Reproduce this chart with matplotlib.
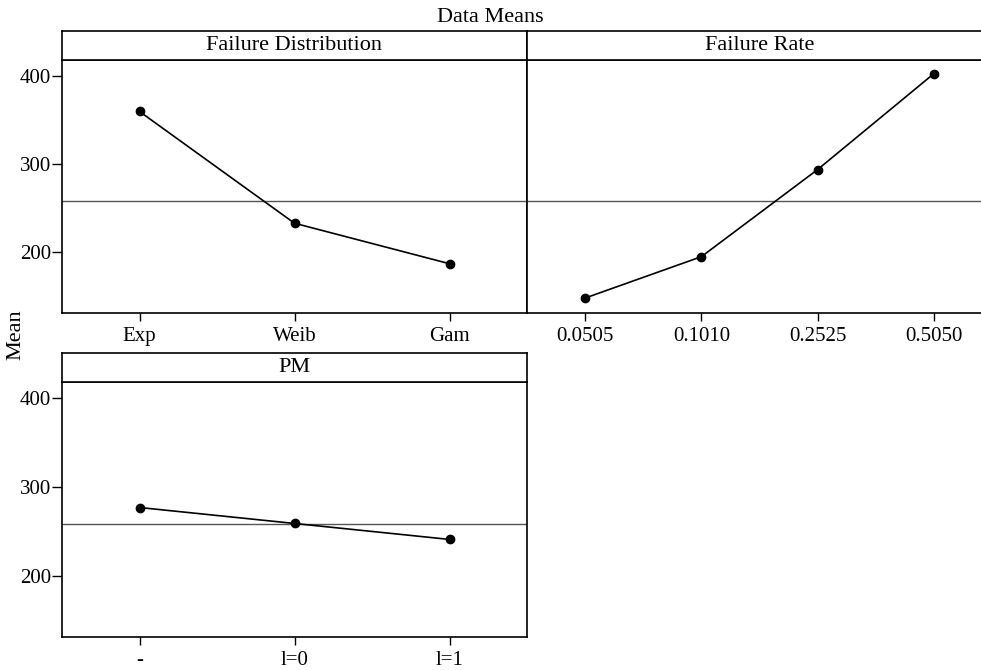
import matplotlib.pyplot as plt

plt.rcParams['font.family'] = ['Liberation Serif', 'DejaVu Serif']
plt.rcParams['font.size'] = 15

dist_levels = ['Exp', 'Weib', 'Gam']
dist_means = [360, 233, 187]
rate_levels = ['0.0505', '0.1010', '0.2525', '0.5050']
rate_means = [148, 195, 294, 403]
pm_levels = ['-', 'l=0', 'l=1']
pm_means = [277, 259, 241]
grand_mean = 258.5
y_ticks = [200, 300, 400]

W, H = 981, 670
fig = plt.figure(figsize=(W / 100, H / 100), dpi=100)


def box(x0, y0, x1, y1):
    # pixel box (top-left origin) -> figure fraction rect
    return [x0 / W, 1 - y1 / H, (x1 - x0) / W, (y1 - y0) / H]


panels = [
    ('Failure Distribution', dist_levels, dist_means, (62, 60, 527, 313), True),
    ('Failure Rate', rate_levels, rate_means, (527, 60, 992, 313), False),
    ('PM', pm_levels, pm_means, (62, 382, 527, 637), True),
]

for name, levels, means, (x0, y0, x1, y1), show_y in panels:
    ax = fig.add_axes(box(x0, y0, x1, y1))
    xs = list(range(1, len(levels) + 1))
    ax.axhline(grand_mean, color='#555555', lw=1.0, zorder=1)
    ax.plot(xs, means, color='black', lw=1.2, marker='o', ms=6, zorder=3)
    ax.set_xlim(0.5, len(levels) + 0.5)
    ax.set_ylim(131, 418.5)
    ax.set_xticks(xs)
    ax.set_xticklabels(levels)
    ax.set_yticks(y_ticks)
    ax.tick_params(axis='x', direction='out', length=6, width=1, pad=4)
    ax.tick_params(axis='y', direction='out', length=7, width=1, pad=1)
    if not show_y:
        ax.tick_params(axis='y', left=False, labelleft=False)
    for s in ax.spines.values():
        s.set_linewidth(1.2)

    strip = fig.add_axes(box(x0, y0 - 29, x1, y0))
    strip.set_xticks([])
    strip.set_yticks([])
    for s in strip.spines.values():
        s.set_linewidth(1.2)
    strip.text(0.5, 0.5, name, ha='center', va='center', fontsize=16,
               transform=strip.transAxes)

fig.text(0.5, 1 - 17 / H, 'Data Means', ha='center', va='center', fontsize=16)
fig.text(16 / W, 1 - 335 / H, 'Mean', rotation=90, ha='center', va='center',
         fontsize=16)

fig.savefig('out.png', dpi=100)
